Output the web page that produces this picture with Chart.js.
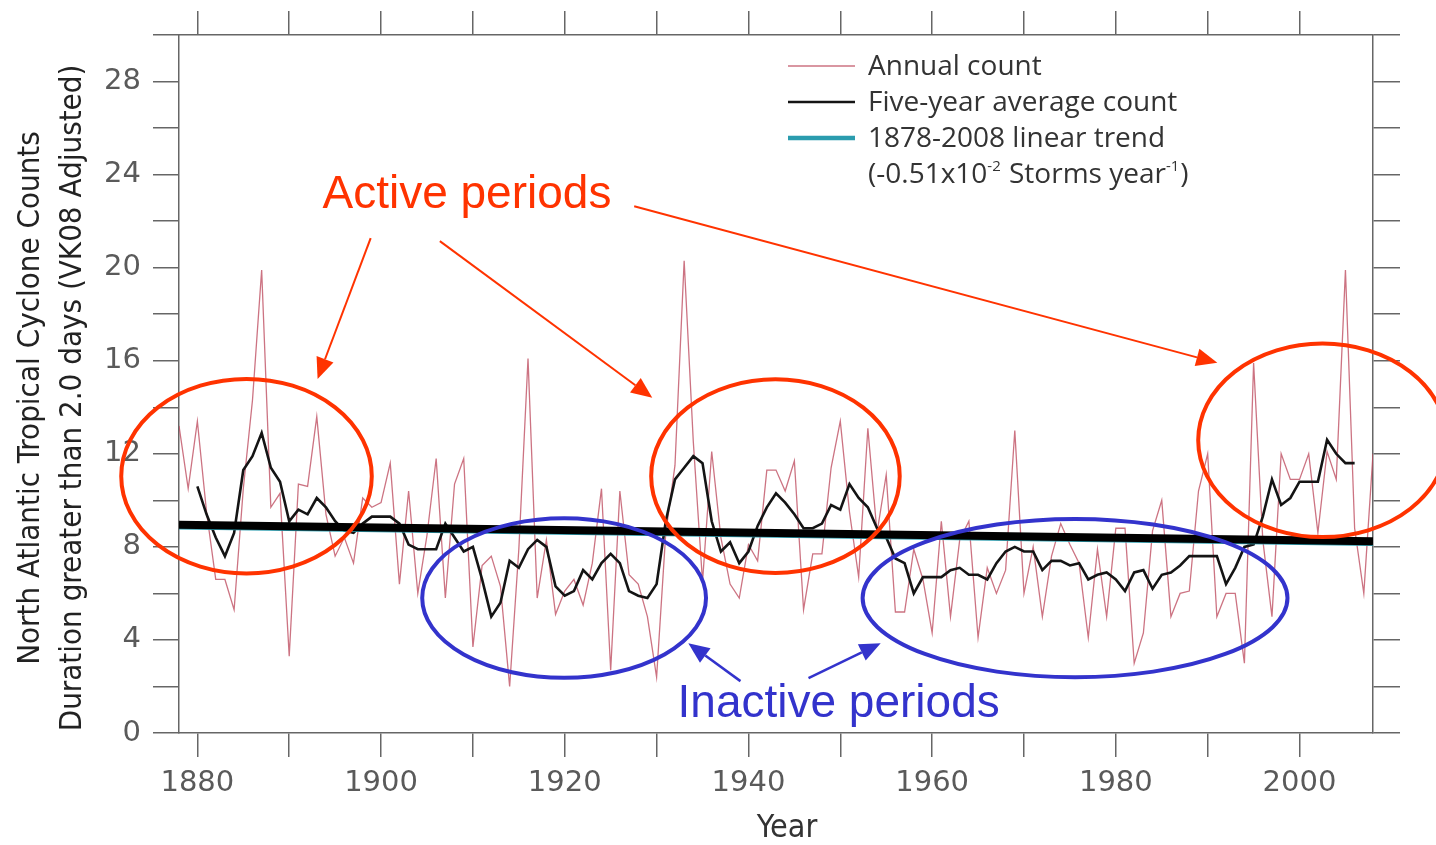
<!DOCTYPE html>
<html><head><meta charset="utf-8">
<script src="https://cdn.jsdelivr.net/npm/chart.js@4.4.1/dist/chart.umd.min.js"></script>
<style>html,body{margin:0;padding:0;background:#fff;} canvas{display:block;}</style>
</head><body>
<canvas id="c" width="1436" height="845"></canvas>
<script>
// ---------------- data ----------------
const annualStartYear = 1878;
const annualCount = [
  13.2, 10.5,
  13.4, 9.5, 6.6, 6.6, 5.3, 10.5, 14.3, 19.9, 9.7, 10.3,
  3.3, 10.7, 10.6, 13.6, 9.4, 7.6, 8.4, 7.3, 10.1, 9.7,
  9.9, 11.6, 6.4, 10.4, 6.0, 8.5, 11.8, 5.8, 10.7, 11.8,
  3.7, 7.2, 7.6, 6.3, 2.0, 7.9, 16.1, 5.8, 8.3, 5.1,
  6.1, 6.6, 5.5, 7.3, 10.5, 2.7, 10.4, 6.8, 6.4, 5.0,
  2.4, 8.6, 11.5, 20.3, 12.5, 6.5, 12.1, 8.4, 6.4, 5.8,
  8.1, 7.4, 11.3, 11.3, 10.4, 11.7, 5.3, 7.7, 7.7, 11.4,
  13.4, 9.5, 6.7, 13.1, 8.6, 11.1, 5.2, 5.2, 7.9, 6.6,
  4.3, 9.1, 5.0, 8.3, 9.1, 4.1, 7.1, 6.0, 7.0, 13.0,
  6.0, 8.0, 5.0, 7.6, 9.0, 8.1, 7.3, 4.1, 7.9, 5.0,
  8.8, 8.8, 3.0, 4.3, 8.7, 10.0, 5.0, 6.0, 6.1, 10.4,
  12.0, 5.0, 6.0, 6.0, 3.0, 15.9, 8.3, 5.0, 12.0, 10.9,
  10.9, 12.0, 8.6, 12.1, 10.9, 19.9, 8.8, 6.0, 12.0
];
const avgStartYear = 1880;
const fiveYearAverage = [
  10.6, 9.4, 8.4, 7.6, 8.6, 11.3, 11.9, 12.9, 11.4, 10.8,
  9.1, 9.6, 9.4, 10.1, 9.7, 9.1, 8.7, 8.6, 9.0, 9.3,
  9.3, 9.3, 9.0, 8.1, 7.9, 7.9, 7.9, 9.0, 8.4, 7.8,
  8.0, 6.6, 5.0, 5.6, 7.4, 7.1, 7.9, 8.3, 8.0, 6.3,
  5.9, 6.1, 7.0, 6.6, 7.3, 7.7, 7.3, 6.1, 5.9, 5.8,
  6.4, 9.1, 10.9, 11.4, 11.9, 11.6, 9.1, 7.8, 8.2, 7.3,
  7.8, 8.9, 9.7, 10.3, 9.9, 9.4, 8.8, 8.8, 9.0, 9.8,
  9.6, 10.7, 10.1, 9.7, 8.8, 8.4, 7.5, 7.3, 6.0, 6.7,
  6.7, 6.7, 7.0, 7.1, 6.8, 6.8, 6.6, 7.3, 7.8, 8.0,
  7.8, 7.8, 7.0, 7.4, 7.4, 7.2, 7.3, 6.6, 6.8, 6.9,
  6.6, 6.1, 6.9, 7.0, 6.2, 6.8, 6.9, 7.2, 7.6, 7.6,
  7.6, 7.6, 6.4, 7.1, 8.0, 8.1, 9.3, 10.9, 9.8, 10.1,
  10.8, 10.8, 10.8, 12.6, 12.0, 11.6, 11.6
];
const trendYears = [1878, 2008];
const trendValues = [8.78, 8.08];          // thin teal linear trend
const overlayTrendValues = [8.95, 8.24];   // thick black overlay line
const xTickYears = [1880, 1890, 1900, 1910, 1920, 1930, 1940, 1950, 1960, 1970, 1980, 1990, 2000];
const xLabelYears = [1880, 1900, 1920, 1940, 1960, 1980, 2000];
const yTickValues = [0, 2, 4, 6, 8, 10, 12, 14, 16, 18, 20, 22, 24, 26, 28, 30];
const yLabelValues = [0, 4, 8, 12, 16, 20, 24, 28];
const legendLabels = ['Annual count', 'Five-year average count', '1878-2008 linear trend'];
const yTitleLines = ['North Atlantic Tropical Cyclone Counts', 'Duration greater than 2.0 days (VK08 Adjusted)'];
const xTitle = 'Year';

// ---------------- annotations (data coordinates) ----------------
const RED = '#ff3300', BLUE = '#3333cc';
const ellipses = [
  {color: RED,  year: 1885.35, value: 11.04, rYears: 13.64, rValue: 4.18},
  {color: RED,  year: 1942.94, value: 11.04, rYears: 13.53, rValue: 4.16},
  {color: RED,  year: 2002.5,  value: 12.58, rYears: 13.53, rValue: 4.16},
  {color: BLUE, year: 1919.93, value: 5.80,  rYears: 15.45, rValue: 3.43},
  {color: BLUE, year: 1975.56, value: 5.80,  rYears: 23.13, rValue: 3.40}
];
const arrows = [
  {color: RED,  from: [1898.87, 21.27], to: [1893.09, 15.22], w: 2},
  {color: RED,  from: [1906.40, 21.14], to: [1929.53, 14.41], w: 2},
  {color: RED,  from: [1927.56, 22.64], to: [1991.05, 15.91], w: 2},
  {color: BLUE, from: [1939.13, 2.23],  to: [1933.45, 3.86],  w: 2.5},
  {color: BLUE, from: [1946.54, 2.36],  to: [1954.40, 3.86],  w: 2.5}
];
const notes = [
  {text: 'Active periods',   year: 1909.35, value: 22.56, color: RED},
  {text: 'Inactive periods', year: 1949.82, value: 0.69,  color: BLUE}
];

// ---------------- styles ----------------
const ANNUAL_COLOR = 'rgba(190,75,95,0.78)';
const AVG_COLOR = '#141414';
const TREND_COLOR = '#2a9cae';
const AXIS_COLOR = '#666';
const TICK_FONT = {family: 'DejaVu Sans', size: 29};
const TICK_COLOR = '#5a5a5a';
const TITLE_FONT = '"DejaVu Sans Condensed", "Liberation Sans Narrow", "DejaVu Sans"';
const LEGEND_FONT = '"Open Sans", "Noto Sans", sans-serif';

const pts = (start, arr) => arr.map((v, i) => ({x: start + i, y: v}));

function drawArrow(ctx, x0, y0, x1, y1, color, width, headLen, headHalf) {
  const a = Math.atan2(y1 - y0, x1 - x0);
  const bx = x1 - headLen * Math.cos(a), by = y1 - headLen * Math.sin(a);
  ctx.strokeStyle = color; ctx.lineWidth = width;
  ctx.beginPath(); ctx.moveTo(x0, y0); ctx.lineTo(bx, by); ctx.stroke();
  ctx.fillStyle = color;
  ctx.beginPath();
  ctx.moveTo(x1, y1);
  ctx.lineTo(bx - headHalf * Math.sin(a), by + headHalf * Math.cos(a));
  ctx.lineTo(bx + headHalf * Math.sin(a), by - headHalf * Math.cos(a));
  ctx.closePath(); ctx.fill();
}

const overlayPlugin = {
  id: 'overlay',
  afterDraw(chart) {
    const ctx = chart.ctx, xs = chart.scales.x, ys = chart.scales.y;
    const px = v => xs.getPixelForValue(v), py = v => ys.getPixelForValue(v);
    ctx.save();
    // axis titles
    ctx.fillStyle = '#222';
    ctx.font = '31px ' + TITLE_FONT;
    ctx.textAlign = 'center'; ctx.textBaseline = 'middle';
    const yMid = (chart.chartArea.top + chart.chartArea.bottom) / 2 + 14;
    [31, 73].forEach((x, i) => {
      ctx.save(); ctx.translate(x, yMid); ctx.rotate(-Math.PI / 2);
      ctx.fillText(yTitleLines[i], 0, 0); ctx.restore();
    });
    ctx.fillStyle = '#333';
    ctx.font = '32px ' + TITLE_FONT;
    ctx.fillText(xTitle, (chart.chartArea.left + chart.chartArea.right) / 2 + 11, 829);

    // legend
    const ds = chart.data.datasets;
    const lx0 = 788, lx1 = 855, tx = 868, rows = [66, 102, 138];
    ctx.font = '28px ' + LEGEND_FONT;
    ctx.textAlign = 'left'; ctx.textBaseline = 'middle';
    const legendWidths = [1.4, 2.6, 4.5];
    rows.forEach((y, i) => {
      ctx.strokeStyle = ds[i].borderColor; ctx.lineWidth = legendWidths[i];
      ctx.beginPath(); ctx.moveTo(lx0, y); ctx.lineTo(lx1, y); ctx.stroke();
      ctx.fillStyle = '#333';
      ctx.fillText(legendLabels[i], tx, y + 1);
    });
    // fourth legend line with superscripts
    let cx = tx; const y4 = 175;
    const parts = [['(-0.51x10', false], ['-2', true], [' Storms year', false], ['-1', true], [')', false]];
    parts.forEach(([t, sup]) => {
      ctx.font = (sup ? '15px ' : '28px ') + LEGEND_FONT;
      ctx.fillText(t, cx, sup ? y4 - 8 : y4);
      cx += ctx.measureText(t).width + (sup ? 1 : 0);
    });

    // ellipses
    ellipses.forEach(e => {
      const cxp = px(e.year), cyp = py(e.value);
      const rx = Math.abs(px(e.year + e.rYears) - cxp), ry = Math.abs(py(e.value + e.rValue) - cyp);
      ctx.strokeStyle = e.color; ctx.lineWidth = 4;
      ctx.beginPath(); ctx.ellipse(cxp, cyp, rx, ry, 0, 0, Math.PI * 2); ctx.stroke();
    });
    // arrows
    arrows.forEach(a => {
      drawArrow(ctx, px(a.from[0]), py(a.from[1]), px(a.to[0]), py(a.to[1]), a.color, a.w, 21, 9);
    });
    // notes
    ctx.font = '46px "Liberation Sans", Arial, sans-serif';
    ctx.textAlign = 'center'; ctx.textBaseline = 'alphabetic';
    notes.forEach(n => { ctx.fillStyle = n.color; ctx.fillText(n.text, px(n.year), py(n.value)); });
    ctx.restore();
  }
};

const gridOpts = (len) => ({drawOnChartArea: false, drawTicks: true, tickLength: len, color: AXIS_COLOR, lineWidth: 1.5});
const borderOpts = {display: true, color: AXIS_COLOR, width: 1.5};

new Chart(document.getElementById('c'), {
  type: 'line',
  data: {
    datasets: [
      {label: legendLabels[0], data: pts(annualStartYear, annualCount), borderColor: ANNUAL_COLOR, borderWidth: 1.3, pointRadius: 0, order: 4},
      {label: legendLabels[1], data: pts(avgStartYear, fiveYearAverage), borderColor: AVG_COLOR, borderWidth: 2.6, pointRadius: 0, order: 3},
      {label: legendLabels[2], data: trendYears.map((x, i) => ({x, y: trendValues[i]})), borderColor: TREND_COLOR, borderWidth: 1.8, pointRadius: 0, order: 2},
      {label: 'trend overlay', data: trendYears.map((x, i) => ({x, y: overlayTrendValues[i]})), borderColor: '#000', borderWidth: 8, borderCapStyle: 'butt', pointRadius: 0, order: 1}
    ]
  },
  options: {
    responsive: false, animation: false, devicePixelRatio: 1,
    layout: {padding: 0},
    plugins: {legend: {display: false}, tooltip: {enabled: false}},
    elements: {line: {tension: 0}},
    scales: {
      x: {
        type: 'linear', position: 'bottom', min: 1878, max: 2008,
        afterBuildTicks: s => { s.ticks = xTickYears.map(v => ({value: v})); },
        afterFit: s => { s.height = 112; },
        ticks: {autoSkip: false, maxRotation: 0, padding: 9, font: TICK_FONT, color: TICK_COLOR,
          callback: v => xLabelYears.includes(v) ? String(v) : ''},
        grid: gridOpts(24), border: borderOpts
      },
      x2: {
        type: 'linear', position: 'top', min: 1878, max: 2008,
        afterBuildTicks: s => { s.ticks = xTickYears.map(v => ({value: v})); },
        afterFit: s => { s.height = 35; },
        ticks: {autoSkip: false, maxRotation: 0, font: TICK_FONT, callback: () => ''},
        grid: gridOpts(24), border: borderOpts
      },
      y: {
        type: 'linear', position: 'left', min: 0, max: 30,
        afterBuildTicks: s => { s.ticks = yTickValues.map(v => ({value: v})); },
        afterFit: s => { s.width = 179; },
        ticks: {autoSkip: false, padding: 12, font: TICK_FONT, color: TICK_COLOR,
          callback: v => yLabelValues.includes(v) ? String(v) : ''},
        grid: gridOpts(26), border: borderOpts
      },
      y2: {
        type: 'linear', position: 'right', min: 0, max: 30,
        afterBuildTicks: s => { s.ticks = yTickValues.map(v => ({value: v})); },
        afterFit: s => { s.width = 63; },
        ticks: {autoSkip: false, font: TICK_FONT, callback: () => ''},
        grid: gridOpts(27), border: borderOpts
      }
    }
  },
  plugins: [overlayPlugin]
});
</script>
</body></html>
